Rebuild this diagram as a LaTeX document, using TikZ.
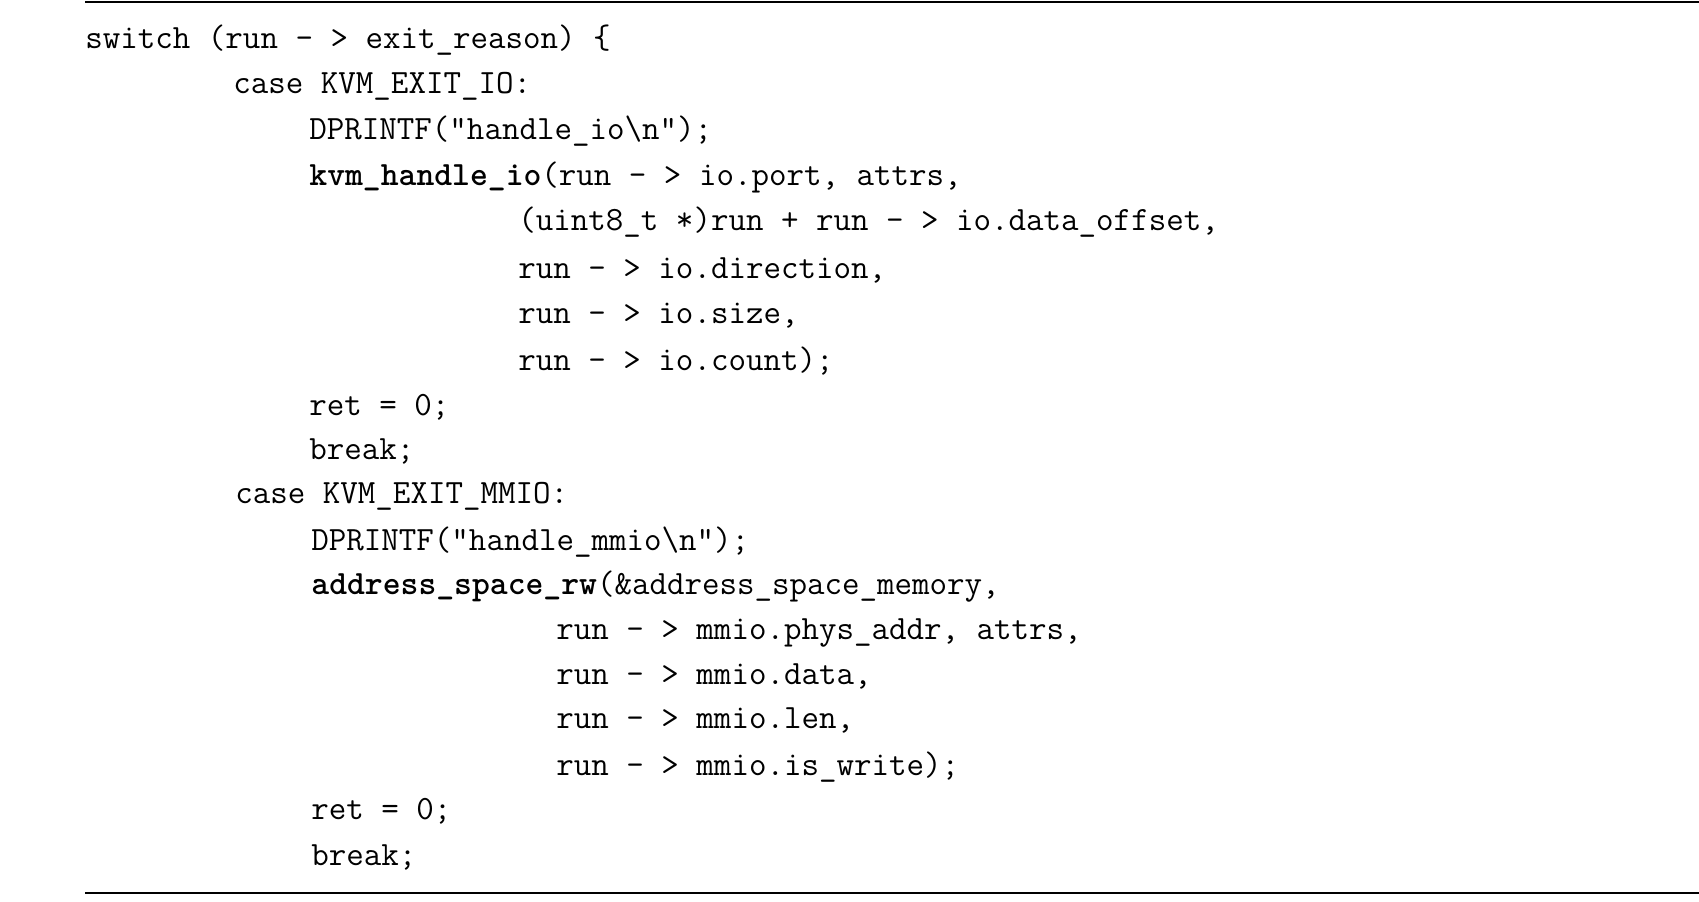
\documentclass[tikz,border=0pt]{standalone}
\usepackage{fontspec}
\begin{document}
\begin{tikzpicture}[x=0.5pt,y=-0.5pt,
  code/.style={anchor=west,inner sep=0pt,font=\ttfamily\fontsize{17}{20}\selectfont}]
\useasboundingbox (0,0) rectangle (1699,901);
\draw[line width=0.8pt] (85,2) coordinate (t1) -- (1699,2) coordinate (t2);
\draw[line width=0.8pt] (85,893) coordinate (b1) -- (1699,893) coordinate (b2);
\def\L#1{#1*45.35+40}
\node[code] (l1) at (85,40) {switch (run - > exit\_reason) \{};
\node[code] (l2) at (233,86) {case KVM\_EXIT\_IO:};
\node[code] (l3) at (309,131) {DPRINTF("handle\_io\textbackslash n");};
\node[code] (l4) at (309,177) {\textbf{kvm\_handle\_io}(run - > io.port, attrs,};
\node[code] (l5) at (518,222) {(uint8\_t *)run + run - > io.data\_offset,};
\node[code] (l6) at (518,270) {run - > io.direction,};
\node[code] (l7) at (518,316) {run - > io.size,};
\node[code] (l8) at (518,361) {run - > io.count);};
\node[code] (l9) at (309,407) {ret = 0;};
\node[code] (l10) at (309,451) {break;};
\node[code] (l11) at (235,496) {case KVM\_EXIT\_MMIO:};
\node[code] (l12) at (311,542) {DPRINTF("handle\_mmio\textbackslash n");};
\node[code] (l13) at (311,587) {\textbf{address\_space\_rw}(\&address\_space\_memory,};
\node[code] (l14) at (556,633) {run - > mmio.phys\_addr, attrs,};
\node[code] (l15) at (556,676) {run - > mmio.data,};
\node[code] (l16) at (556,720) {run - > mmio.len,};
\node[code] (l17) at (556,767) {run - > mmio.is\_write);};
\node[code] (l18) at (311,811) {ret = 0;};
\node[code] (l19) at (311,857) {break;};
\end{tikzpicture}
\end{document}
